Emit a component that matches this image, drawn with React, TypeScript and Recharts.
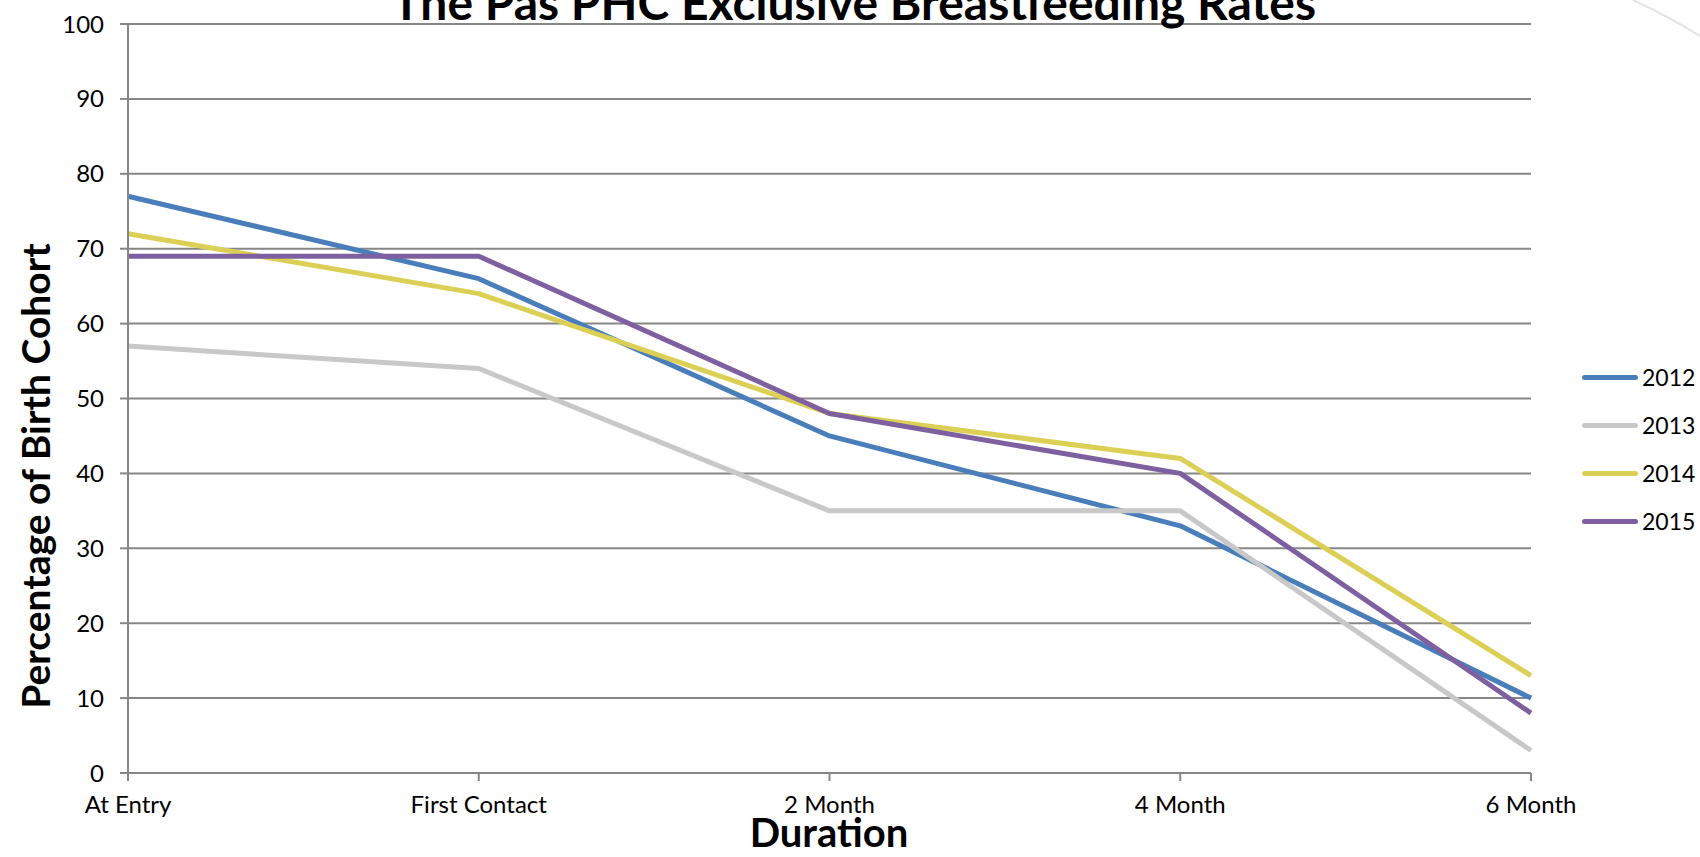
import React from "react";
import { CartesianGrid, Legend, Line, LineChart, XAxis, YAxis } from "recharts";

const stages = ["At Entry", "First Contact", "2 Month", "4 Month", "6 Month"];
const rates2012 = [77, 66, 45, 33, 10];
const rates2013 = [57, 54, 35, 35, 3];
const rates2014 = [72, 64, 48, 42, 13];
const rates2015 = [69, 69, 48, 40, 8];
const yTicks = [0, 10, 20, 30, 40, 50, 60, 70, 80, 90, 100];

const series = [
  { key: "2012", values: rates2012, color: "#4a7ebb" },
  { key: "2013", values: rates2013, color: "#c8c8c8" },
  { key: "2014", values: rates2014, color: "#dbd055" },
  { key: "2015", values: rates2015, color: "#7e60a0" },
];

const data = stages.map((stage, i) => {
  const row: Record<string, string | number> = { stage };
  series.forEach((s) => {
    row[s.key] = s.values[i];
  });
  return row;
});

const FONT = "Lato, 'Noto Sans', sans-serif";
const GRID = "#868686";

const renderLegend = (props: any) => {
  const items = props.payload || [];
  return (
    <div style={{ fontFamily: FONT }}>
      {items.map((item: any) => (
        <div
          key={item.value}
          style={{ display: "flex", alignItems: "center", height: 48 }}
        >
          <div
            style={{
              width: 56,
              height: 5,
              borderRadius: 3,
              background: item.color,
              marginRight: 4,
            }}
          />
          <span style={{ fontSize: 23, color: "#000" }}>{item.value}</span>
        </div>
      ))}
    </div>
  );
};

export default function App() {
  return (
    <div
      style={{
        position: "absolute",
        left: 0,
        top: 0,
        width: 1700,
        height: 857,
        background: "#fff",
        overflow: "hidden",
      }}
    >
      <LineChart
        width={1700}
        height={857}
        data={data}
        margin={{ top: 24, right: 169, left: 0, bottom: 54 }}
      >
        <CartesianGrid horizontal vertical={false} stroke={GRID} strokeWidth={2} />
        <XAxis
          dataKey="stage"
          height={30}
          padding={{ left: 0, right: 0 }}
          stroke={GRID}
          strokeWidth={2}
          tickSize={8}
          tickMargin={15}
          tick={{ fill: "#000", fontSize: 24, fontFamily: FONT }}
          interval={0}
        />
        <YAxis
          width={128}
          domain={[0, 100]}
          ticks={yTicks}
          stroke={GRID}
          strokeWidth={2}
          tickSize={8}
          tickMargin={16}
          tick={{ fill: "#000", fontSize: 24, fontFamily: FONT }}
        />
        <Legend
          layout="horizontal"
          verticalAlign="middle"
          align="center"
          wrapperStyle={{ left: 1582, top: 353, width: 120 }}
          content={renderLegend}
        />
        {series.map((s) => (
          <Line
            key={s.key}
            dataKey={s.key}
            name={s.key}
            type="linear"
            stroke={s.color}
            strokeWidth={5}
            dot={false}
            activeDot={false}
            strokeLinejoin="round"
            isAnimationActive={false}
          />
        ))}
        <text
          x={854}
          y={20}
          textAnchor="middle"
          fontFamily={FONT}
          fontWeight="bold"
          fontSize={48}
          fill="#000"
        >
          The Pas PHC Exclusive Breastfeeding Rates
        </text>
        <text
          x={829}
          y={847}
          textAnchor="middle"
          fontFamily={FONT}
          fontWeight="bold"
          fontSize={40}
          fill="#000"
        >
          Duration
        </text>
        <text
          x={50}
          y={476}
          transform="rotate(-90 50 476)"
          textAnchor="middle"
          fontFamily={FONT}
          fontWeight="bold"
          fontSize={39}
          fill="#000"
        >
          Percentage of Birth Cohort
        </text>
      </LineChart>
      <svg
        width={1700}
        height={857}
        style={{ position: "absolute", left: 0, top: 0, pointerEvents: "none" }}
      >
        <path d="M1633 0 Q1668 16 1700 36" stroke="#e4e4e4" strokeWidth={2} fill="none" />
      </svg>
    </div>
  );
}
